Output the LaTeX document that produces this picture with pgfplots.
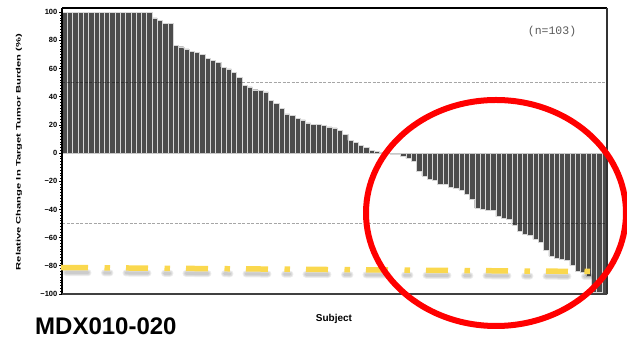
\documentclass[border=0pt]{standalone}
\usepackage{pgfplots}
\pgfplotsset{compat=1.18}
\usepackage{pgfplotstable}
\usepackage{graphicx}
\usepackage{fontspec}
\setmainfont{Liberation Sans}
\newfontfamily\monofont{Liberation Mono}

\definecolor{barfill}{RGB}{76,76,76}
\definecolor{sepline}{RGB}{215,215,215}
\definecolor{zeroline}{RGB}{200,200,200}
\definecolor{hilite}{RGB}{250,216,78}
\definecolor{ringred}{RGB}{255,0,0}

% best change from baseline, one row per subject, sorted
\pgfplotstableread{
idx chg
0 100
1 100
2 100
3 100
4 100
5 100
6 100
7 100
8 100
9 100
10 100
11 100
12 100
13 100
14 100
15 100
16 100
17 96
18 94
19 92
20 92
21 76.5
22 75.5
23 74
24 72
25 71.5
26 70
27 67.5
28 66
29 64.6
30 61
31 59.7
32 57.3
33 54
34 48.3
35 47
36 45
37 44.3
38 43.4
39 37.5
40 35.4
41 31.6
42 27.8
43 26.7
44 24.8
45 23.6
46 21.5
47 20.3
48 20.3
49 19.8
50 18.6
51 17.9
52 16
53 13.4
54 9
55 7.8
56 5.7
57 4
58 1.9
59 1.0
60 0.5
61 0.2
62 -0.5
63 -1
64 -2.5
65 -3.8
66 -5.5
67 -12.9
68 -16.2
69 -18.3
70 -19.5
71 -21.9
72 -21.9
73 -24
74 -25.2
75 -26.1
76 -29.4
77 -32.5
78 -39
79 -40
80 -40.8
81 -40.8
82 -45
83 -46
84 -47.2
85 -51
86 -55.7
87 -57.8
88 -58.5
89 -61.3
90 -63
91 -68.9
92 -73.2
93 -74.4
94 -75
95 -76
96 -79.8
97 -84
98 -84.5
99 -87.4
100 -99
101 -99
102 -100
}\waterfall

\tikzset{hldash/.style={dash pattern=on 22pt off 16.5pt on 5.5pt off 16pt, dash phase=56pt}}

\begin{document}
\begin{tikzpicture}[x=1pt,y=1pt]
\begin{axis}[
  at={(62pt,45pt)}, anchor=south west,
  scale only axis, width=545pt, height=286pt,
  xmin=-0.5, xmax=102.5, ymin=-100, ymax=103,
  ybar, bar width=1,
  axis line style={draw=none},
  xtick=\empty,
  ytick={-100,-80,...,100},
  yticklabels={−100,−80,−60,−40,−20,0,20,40,60,80,100},
  ytick pos=left, tick align=outside,
  major tick length=3pt, minor tick length=2pt,
  minor y tick num=9,
  every tick/.style={black, line width=0.7pt},
  minor tick style={black, line width=0.5pt},
  yticklabel style={font=\fontsize{7.5}{8}\selectfont\bfseries, inner xsep=1.5pt},
  clip=false,
]
\addplot[fill=barfill, draw=sepline, line width=0.4pt] table[x=idx, y=chg] {\waterfall};
% zero reference and +/-50% guide lines
\draw[zeroline, line width=1pt] (axis cs:-0.5,0) -- (axis cs:102.5,0);
\draw[black, opacity=0.35, line width=0.7pt, dash pattern=on 3pt off 1.5pt]
  (axis cs:-0.5,50) -- (axis cs:102.5,50);
\draw[black, opacity=0.35, line width=0.7pt, dash pattern=on 3pt off 1.5pt]
  (axis cs:-0.5,-50) -- (axis cs:102.5,-50);
% frame
\draw[black, line width=1.5pt] (rel axis cs:0,0) -- (rel axis cs:0,1);
\draw[black, line width=2pt] (rel axis cs:0,1) -- (rel axis cs:1,1);
\draw[black!80, line width=2.5pt] (rel axis cs:1,1) -- (rel axis cs:1,0);
\draw[black!75, line width=2pt] (rel axis cs:0,0) -- (rel axis cs:1,0);
\end{axis}

% titles and labels
\node[rotate=90] at (19,187)
  {\scalebox{1.72}[1]{\fontsize{6.5}{7}\selectfont\bfseries Relative Change In Target Tumor Burden (\%)}};
\node[anchor=base] at (334,17.5) {\fontsize{10}{12}\selectfont\bfseries Subject};
\node[text=black!65] at (552,307.5) {\monofont\fontsize{11.5}{13}\selectfont (n=103)};
\node[anchor=base west, inner sep=0pt] at (35,4) {\fontsize{24}{28}\selectfont\bfseries MDX010-020};

% highlight: dash-dot marker line with soft shadow
\foreach \w in {7,5,3}
  \draw[black, opacity=0.07, line width=\w pt, hldash, line cap=round]
    (62,66.5) -- (590,62.5);
\draw[hilite, line width=5.5pt, hldash] (62,71.5) -- (590,67.5);
\draw[hilite, line width=5.5pt] (61,71.5) -- (66,71.46);

% ring around the responders
\draw[ringred, line width=6pt] (496,126) ellipse [x radius=130, y radius=113];

\pgfresetboundingbox
\path[use as bounding box] (0,0) rectangle (627,339);
\end{tikzpicture}
\end{document}
